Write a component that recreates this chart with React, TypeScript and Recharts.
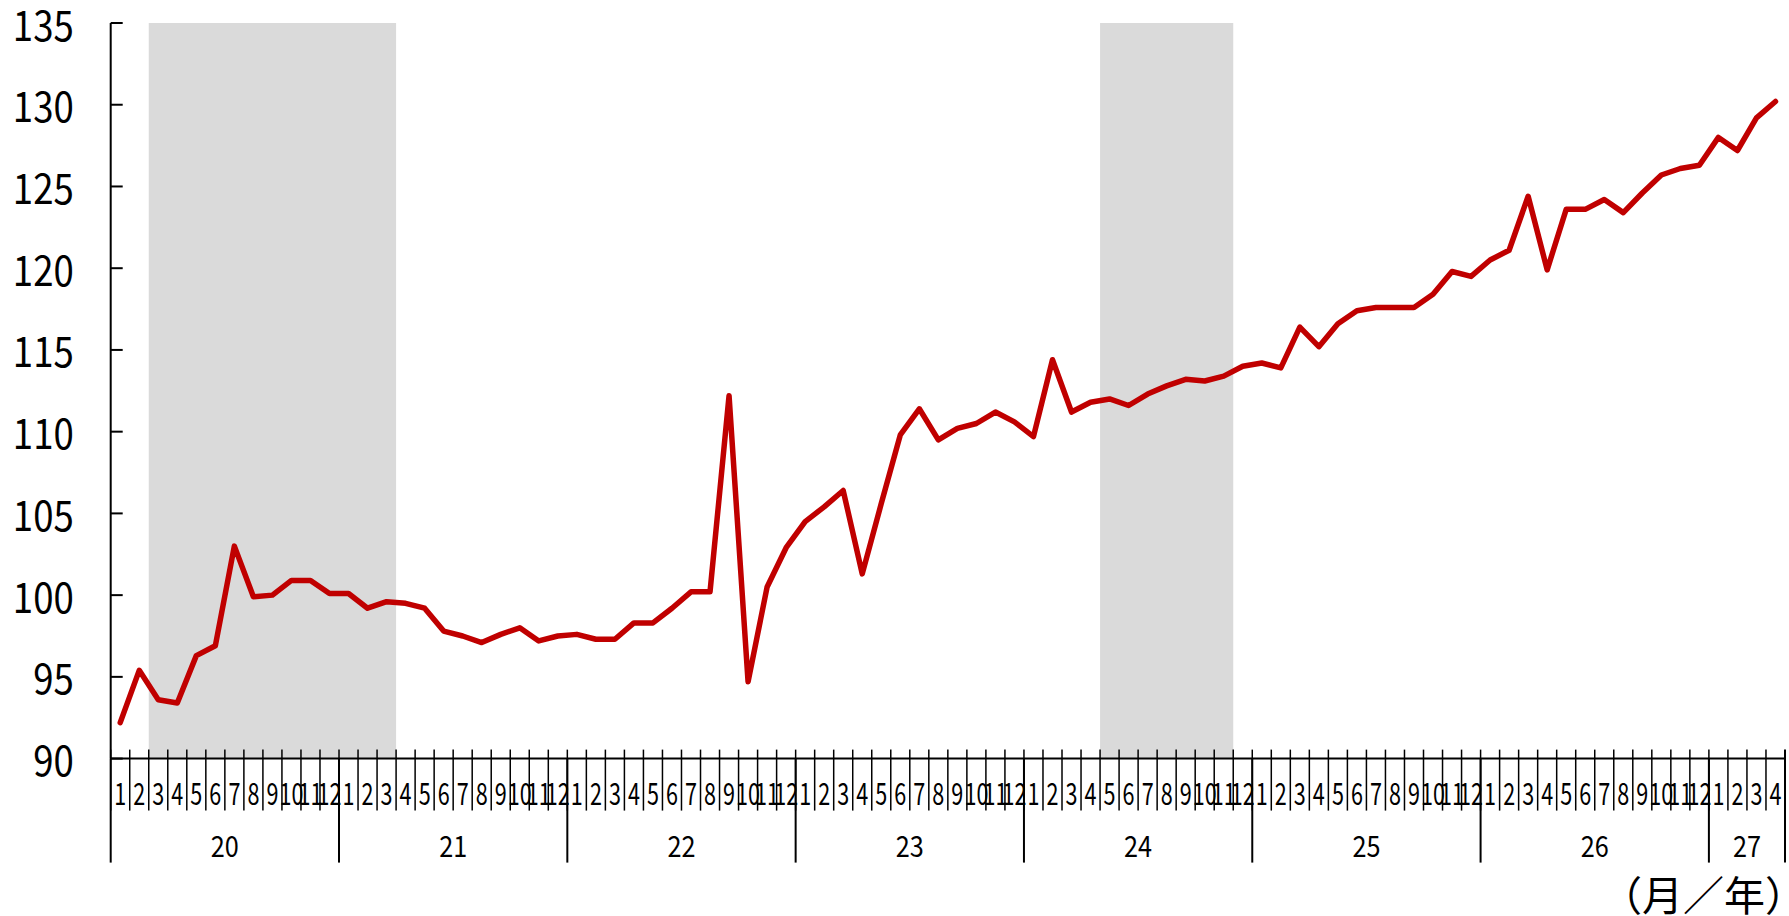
import { LineChart, Line, XAxis, YAxis, ReferenceArea } from "recharts";

// monthly index, Jan 2020 .. Apr 2027
const years = ["20", "21", "22", "23", "24", "25", "26", "27"];
const months = ["1", "2", "3", "4", "5", "6", "7", "8", "9", "10", "11", "12"];

const values = [
  // 20
  92.2, 95.4, 93.6, 93.4, 96.3, 96.9, 103.0, 99.9, 100.0, 100.9, 100.9, 100.1,
  // 21
  100.1, 99.2, 99.6, 99.5, 99.2, 97.8, 97.5, 97.1, 97.6, 98.0, 97.2, 97.5,
  // 22
  97.6, 97.3, 97.3, 98.3, 98.3, 99.2, 100.2, 100.2, 112.2, 94.7, 100.5, 102.9,
  // 23
  104.5, 105.4, 106.4, 101.3, 105.6, 109.8, 111.4, 109.5, 110.2, 110.5, 111.2, 110.6,
  // 24
  109.7, 114.4, 111.2, 111.8, 112.0, 111.6, 112.3, 112.8, 113.2, 113.1, 113.4, 114.0,
  // 25
  114.2, 113.9, 116.4, 115.2, 116.6, 117.4, 117.6, 117.6, 117.6, 118.4, 119.8, 119.5,
  // 26
  120.5, 121.1, 124.4, 119.9, 123.6, 123.6, 124.2, 123.4, 124.6, 125.7, 126.1, 126.3,
  // 27
  128.0, 127.2, 129.2, 130.2,
];

const shadedPeriods = [
  { from: "20/3", to: "21/3" },
  { from: "24/5", to: "24/11" },
];

const yTicks = [90, 95, 100, 105, 110, 115, 120, 125, 130, 135];
const unitLabel = "（月／年）";

const data = years
  .flatMap((year) => months.map((month) => ({ year, month })))
  .slice(0, values.length)
  .map((p, i) => ({ key: `${p.year}/${p.month}`, year: p.year, month: p.month, index: i, value: values[i] }));

const rowByKey: Record<string, (typeof data)[number]> = {};
data.forEach((d) => (rowByKey[d.key] = d));
const monthsInYear: Record<string, number> = {};
data.forEach((d) => (monthsInYear[d.year] = (monthsInYear[d.year] || 0) + 1));

const W = 1789;
const H = 916;
const PLOT_LEFT = 110.7;
const PLOT_RIGHT = 1785;
const PLOT_TOP = 23;
const AXIS_Y = 758.6;
const HALF = (PLOT_RIGHT - PLOT_LEFT) / values.length / 2;

const FONT = '"Noto Sans CJK JP", "Noto Sans", sans-serif';

function YTick(props: any) {
  const { x, y, payload } = props;
  return (
    <g>
      <line x1={x} x2={x + 12} y1={y} y2={y} stroke="#000" strokeWidth={2} />
      <text
        transform={`translate(${x - 37},${y + 17.5}) scale(0.87,1)`}
        textAnchor="end"
        fontSize={42}
        fontFamily={FONT}
        fill="#000"
      >
        {payload.value}
      </text>
    </g>
  );
}

function MonthTick(props: any) {
  const { x, y, payload } = props;
  const row = rowByKey[payload.value];
  if (!row) return null;
  const left = x - HALF;
  const right = x + HALF;
  const isLast = row.index === data.length - 1;
  const startsYear = row.month === "1";
  const yearCenter = left + monthsInYear[row.year] * HALF;
  return (
    <g>
      <line x1={left} x2={left} y1={y - 9} y2={y + 52} stroke="#000" strokeWidth={1.5} />
      <text
        transform={`translate(${x},${y + 46.5}) scale(0.72,1)`}
        textAnchor="middle"
        fontSize={30}
        fontFamily={FONT}
        fill="#000"
      >
        {row.month}
      </text>
      {startsYear && (
        <>
          <line x1={left} x2={left} y1={y} y2={y + 104} stroke="#000" strokeWidth={2} />
          <text
            transform={`translate(${yearCenter},${y + 98}) scale(0.87,1)`}
            textAnchor="middle"
            fontSize={29}
            fontFamily={FONT}
            fill="#000"
          >
            {row.year}
          </text>
        </>
      )}
      {isLast && (
        <>
          <line x1={right} x2={right} y1={y - 9} y2={y + 104} stroke="#000" strokeWidth={2} />
          <text x={right + 21} y={y + 152.4} textAnchor="end" fontSize={41} fontFamily={FONT} fill="#000">
            {unitLabel}
          </text>
        </>
      )}
    </g>
  );
}

export default function App() {
  return (
    <div style={{ position: "absolute", left: 0, top: 0, width: W, height: H, background: "#fff" }}>
      <LineChart
        width={W}
        height={H}
        data={data}
        margin={{ top: PLOT_TOP, right: W - PLOT_RIGHT, bottom: 0, left: 0 }}
      >
        {shadedPeriods.map((s) => (
          <ReferenceArea
            key={s.from}
            x1={s.from}
            x2={s.to}
            y1={90}
            y2={135}
            fill="#dadada"
            fillOpacity={1}
            stroke="none"
          />
        ))}
        <XAxis
          dataKey="key"
          type="category"
          scale="band"
          interval={0}
          height={H - AXIS_Y}
          tickLine={false}
          tickSize={0}
          tickMargin={0}
          axisLine={{ stroke: "#000", strokeWidth: 2 }}
          tick={(p: any) => <MonthTick {...p} />}
        />
        <YAxis
          type="number"
          domain={[90, 135]}
          ticks={yTicks}
          interval={0}
          width={PLOT_LEFT}
          tickLine={false}
          tickSize={0}
          tickMargin={0}
          axisLine={{ stroke: "#000", strokeWidth: 2 }}
          tick={(p: any) => <YTick {...p} />}
        />
        <Line
          dataKey="value"
          stroke="#c00000"
          strokeWidth={5.5}
          strokeLinejoin="round"
          strokeLinecap="round"
          dot={false}
          activeDot={false}
          isAnimationActive={false}
        />
      </LineChart>
    </div>
  );
}
